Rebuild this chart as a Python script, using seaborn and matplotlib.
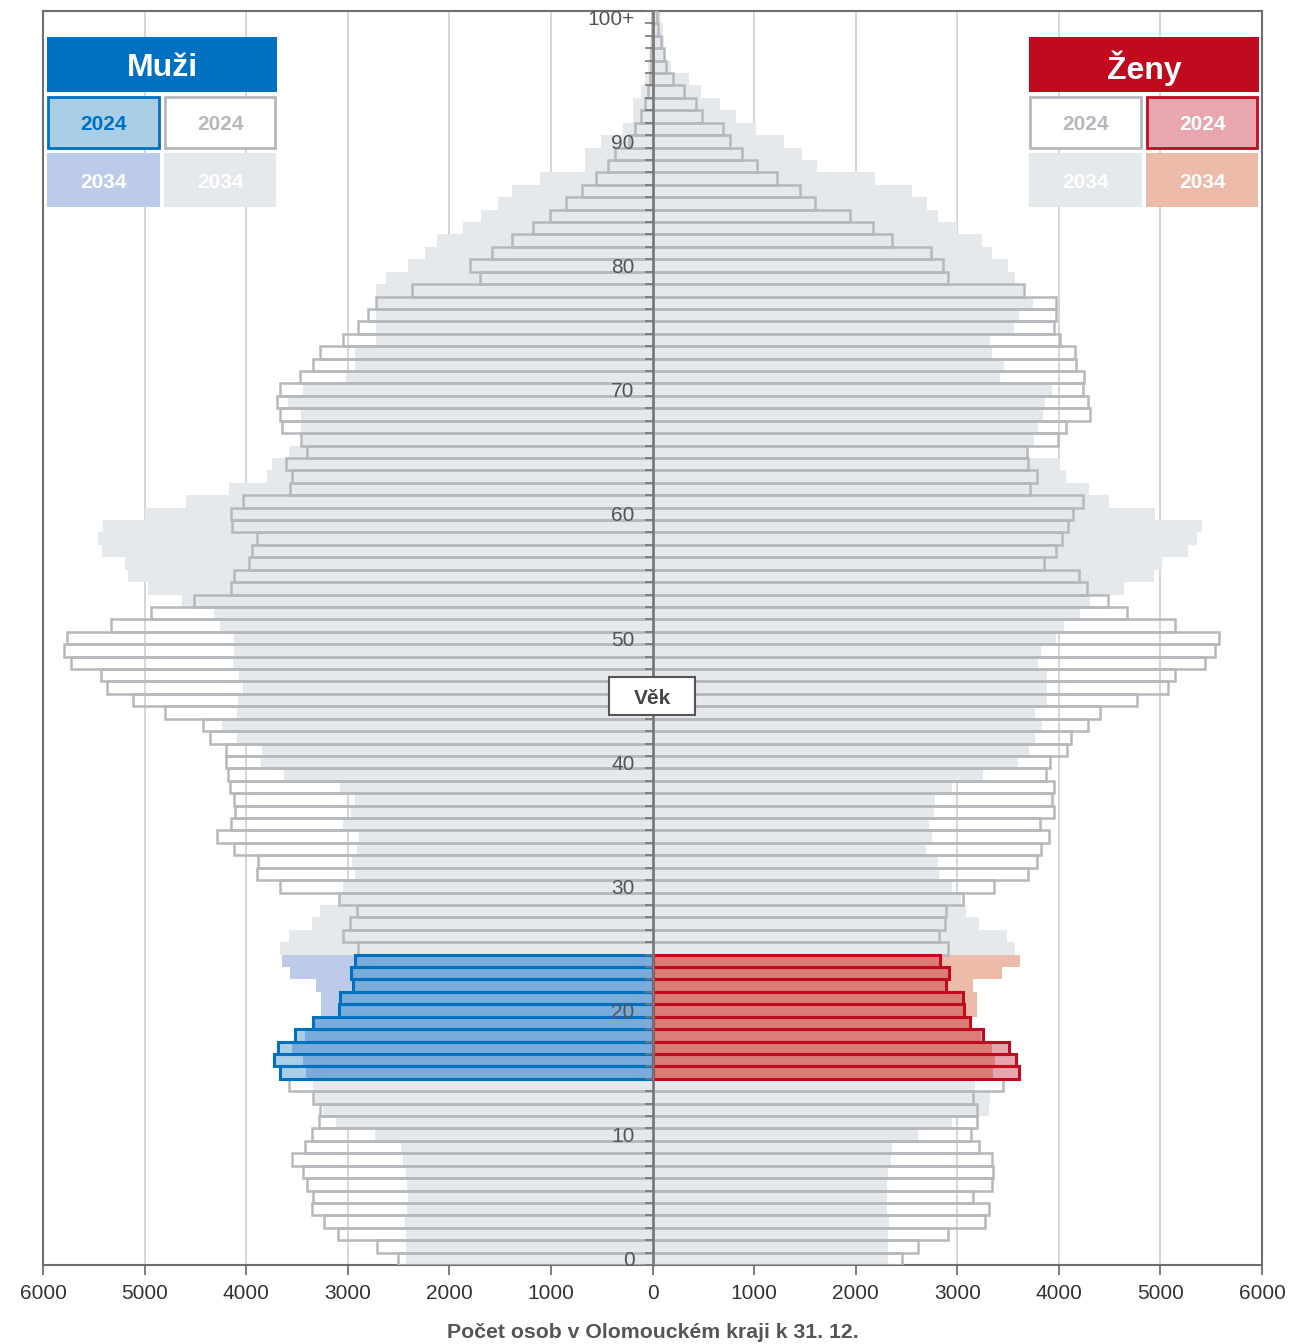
import numpy as np
import pandas as pd
import matplotlib
matplotlib.use('Agg')
import matplotlib.pyplot as plt
import seaborn as sns
from matplotlib.patches import Rectangle
from matplotlib.ticker import FixedLocator

# ---- data ----
ages = np.arange(0, 101)
men_2024 = [2504, 2714, 3099, 3231, 3348, 3340, 3406, 3441, 3546, 3418,
            3348, 3282, 3274, 3340, 3581, 3663, 3729, 3690, 3515, 3340,
            3087, 3079, 2951, 2966, 2931, 2900, 3048, 2978, 2912, 3087,
            3663, 3892, 3884, 4118, 4285, 4145, 4106, 4118, 4157, 4176,
            4196, 4196, 4359, 4421, 4799, 5118, 5374, 5429, 5721, 5791,
            5767, 5332, 4935, 4515, 4145, 4118, 3970, 3943, 3892, 4137,
            4145, 4028, 3573, 3546, 3604, 3398, 3457, 3643, 3670, 3698,
            3670, 3468, 3340, 3270, 3048, 2904, 2803, 2725, 2367, 1698,
            1796, 1578, 1387, 1173, 1006, 850, 694, 558, 434, 370,
            233, 175, 117, 78, 40, 20, 15, 10, 8, 5, 5]
men_2034 = [2426, 2422, 2426, 2437, 2414, 2406, 2414, 2426, 2453, 2472,
            2733, 3114, 3243, 3330, 3340, 3410, 3445, 3546, 3425, 3330,
            3262, 3262, 3313, 3565, 3651, 3670, 3581, 3355, 3270, 3075,
            3048, 2931, 2963, 2912, 2893, 3044, 2970, 2931, 3075, 3632,
            3853, 3846, 4091, 4235, 4091, 4079, 4032, 4067, 4126, 4118,
            4118, 4254, 4312, 4631, 4962, 5160, 5195, 5421, 5460, 5409,
            4993, 4592, 4165, 3795, 3748, 3581, 3440, 3457, 3457, 3585,
            3437, 3017, 2931, 2924, 2725, 2725, 2725, 2725, 2725, 2620,
            2406, 2243, 2122, 1867, 1692, 1517, 1381, 1109, 661, 661,
            506, 292, 195, 195, 117, 78, 40, 30, 20, 15, 10]
women_2024 = [2452, 2615, 2907, 3269, 3308, 3152, 3343, 3354, 3343, 3210,
              3140, 3199, 3191, 3152, 3451, 3607, 3576, 3510, 3257, 3128,
              3062, 3055, 2887, 2915, 2829, 2907, 2821, 2876, 2887, 3055,
              3366, 3697, 3782, 3821, 3907, 3813, 3957, 3930, 3949, 3872,
              3910, 4082, 4124, 4288, 4404, 4774, 5073, 5143, 5435, 5533,
              5579, 5143, 4669, 4482, 4280, 4202, 3852, 3977, 4035, 4086,
              4140, 4237, 3712, 3782, 3697, 3685, 3996, 4074, 4307, 4288,
              4237, 4249, 4171, 4163, 4015, 3949, 3977, 3977, 3654, 2907,
              2856, 2740, 2362, 2168, 1946, 1596, 1448, 1226, 1032, 884,
              760, 690, 487, 429, 308, 203, 133, 118, 87, 59, 48]
women_2034 = [2323, 2323, 2323, 2331, 2312, 2304, 2304, 2323, 2343, 2354,
              2615, 2946, 3315, 3327, 3171, 3354, 3374, 3346, 3230, 3120,
              3191, 3191, 3152, 3444, 3619, 3568, 3490, 3218, 3090, 3040,
              2946, 2821, 2810, 2693, 2751, 2720, 2771, 2782, 2946, 3257,
              3595, 3704, 3763, 3833, 3763, 3879, 3879, 3879, 3790, 3821,
              3977, 4047, 4210, 4307, 4646, 4941, 5019, 5272, 5358, 5408,
              4949, 4490, 4299, 4074, 4008, 3697, 3755, 3794, 3840, 3868,
              3930, 3424, 3463, 3346, 3327, 3560, 3607, 3743, 3650, 3568,
              3498, 3346, 3245, 3000, 2810, 2701, 2557, 2187, 1623, 1468,
              1293, 1020, 826, 662, 476, 359, 184, 126, 118, 106, 87]
highlight_ages = (15, 24)

age_ticks = list(range(0, 101, 10))
age_labels = [str(a) for a in range(0, 100, 10)] + ['100+']
x_ticks = list(range(-6000, 6001, 1000))

# ---- colours ----
GRAY_FILL = '#e6e9ec'
GRAY_EDGE = '#b5b8bc'
BLUE_EDGE, BLUE_24, BLUE_34, BLUE_MID = '#0070c0', '#a9cfe8', '#bccbea', '#7aacd9'
RED_EDGE, RED_24, RED_34, RED_MID = '#c00a1e', '#e8a7ae', '#ecbba9', '#dc7e78'

sns.set_theme(style='white')
plt.rcParams['font.family'] = ['Liberation Sans', 'DejaVu Sans']

W, H = 1292, 1344
fig = plt.figure(figsize=(W / 100, H / 100), dpi=100)


def fbox(x0, y0, x1, y1):
    return (x0 / W, 1 - y1 / H, (x1 - x0) / W, (y1 - y0) / H)


ax = fig.add_axes(fbox(43, 11, 1262, 1265))

df = pd.DataFrame({'age': ages})
df['m24'] = -np.array(men_2024)
df['m34'] = -np.array(men_2034)
df['m_ov'] = -np.minimum(men_2024, men_2034)
df['w24'] = np.array(women_2024)
df['w34'] = np.array(women_2034)
df['w_ov'] = np.minimum(women_2024, women_2034)
hl = df['age'].between(*highlight_ages)


def bars(data, col, **kw):
    sns.barplot(data=data, x=col, y='age', orient='y', native_scale=True,
                width=1, errorbar=None, saturation=1, ax=ax, **kw)


for side, edge, c24, c34, cmid in [('m', BLUE_EDGE, BLUE_24, BLUE_34, BLUE_MID),
                                   ('w', RED_EDGE, RED_24, RED_34, RED_MID)]:
    bars(df[~hl], side + '34', color=GRAY_FILL, edgecolor='none', linewidth=0, zorder=1)
    bars(df[hl], side + '34', color=c34, edgecolor='none', linewidth=0, zorder=1)
    bars(df[hl], side + '24', color=c24, edgecolor='none', linewidth=0, zorder=2)
    bars(df[hl], side + '_ov', color=cmid, edgecolor='none', linewidth=0, zorder=3)
    bars(df[~hl], side + '24', fill=False, color=GRAY_EDGE, linewidth=1.8, zorder=4)
    bars(df[hl], side + '24', fill=False, color=edge, linewidth=2.2, zorder=5)

ax.set_xlim(-6000, 6000)
ax.set_ylim(-0.5, 100.5)
ax.set_yticks([])
ax.set_ylabel('')
ax.set_xticks(x_ticks, labels=[str(abs(t)) for t in x_ticks])
ax.tick_params(axis='x', bottom=True, length=7, width=1.2, color='#666666',
               labelsize=15, labelcolor='#333333', pad=7)
ax.grid(axis='x', color='#d0d0d0', linewidth=1.2)
ax.set_axisbelow(True)
for sp in ax.spines.values():
    sp.set_color('#6e6e6e')
    sp.set_linewidth(1.5)
ax.set_xlabel('Počet osob v Olomouckém kraji k 31. 12.', fontsize=15.3,
              fontweight='bold', color='#555555', labelpad=14)

# central age axis, drawn on top of the bars
cax = ax.twinx()
cax.set_ylim(-0.5, 100.5)
cax.yaxis.tick_left()
for s in ['right', 'top', 'bottom']:
    cax.spines[s].set_visible(False)
cax.spines['left'].set_visible(True)
cax.spines['left'].set_position(('data', 0))
cax.spines['left'].set_color('#777777')
cax.spines['left'].set_linewidth(1.8)
cax.set_yticks(age_ticks, labels=age_labels)
cax.yaxis.set_minor_locator(FixedLocator(np.arange(-0.5, 100.6, 1)))
cax.tick_params(axis='y', which='both', left=True, right=False,
                labelleft=True, labelright=False, direction='out')
cax.tick_params(axis='y', which='major', length=0, pad=13, labelsize=15,
                labelcolor='#555555')
cax.tick_params(axis='y', which='minor', length=6, width=1.2, color='#777777')


def cell(box, face, text, tcolor, size=15, edge='none', lw=0):
    x0, y0, x1, y1 = box
    r = Rectangle((x0 / W, 1 - y1 / H), (x1 - x0) / W, (y1 - y0) / H,
                  transform=fig.transFigure, facecolor=face, edgecolor=edge,
                  linewidth=lw, zorder=10)
    fig.add_artist(r)
    fig.text((x0 + x1) / 2 / W, 1 - (y0 + y1) / 2 / H, text, ha='center',
             va='center_baseline', color=tcolor, fontsize=size,
             fontweight='bold', zorder=11)


# legends
cell((47, 37, 277, 92), BLUE_EDGE, 'Muži', 'white', size=23)
cell((48, 97, 159, 148), BLUE_24, '2024', BLUE_EDGE, edge=BLUE_EDGE, lw=2)
cell((165, 97, 275, 148), 'white', '2024', GRAY_EDGE, edge=GRAY_EDGE, lw=2)
cell((47, 153, 160, 207), BLUE_34, '2034', 'white')
cell((164, 153, 276, 207), GRAY_FILL, '2034', 'white')

cell((1029, 37, 1259, 92), RED_EDGE, 'Ženy', 'white', size=23)
cell((1030, 97, 1141, 148), 'white', '2024', GRAY_EDGE, edge=GRAY_EDGE, lw=2)
cell((1147, 97, 1257, 148), RED_24, '2024', 'white', edge=RED_EDGE, lw=2)
cell((1029, 153, 1142, 207), GRAY_FILL, '2034', 'white')
cell((1146, 153, 1258, 207), RED_34, '2034', 'white')

# "Věk" box on the central axis
cell((609, 677, 695, 715), 'white', 'Věk', '#444444', size=15, edge='#555555', lw=1.5)

fig.savefig('out.png', dpi=100)
